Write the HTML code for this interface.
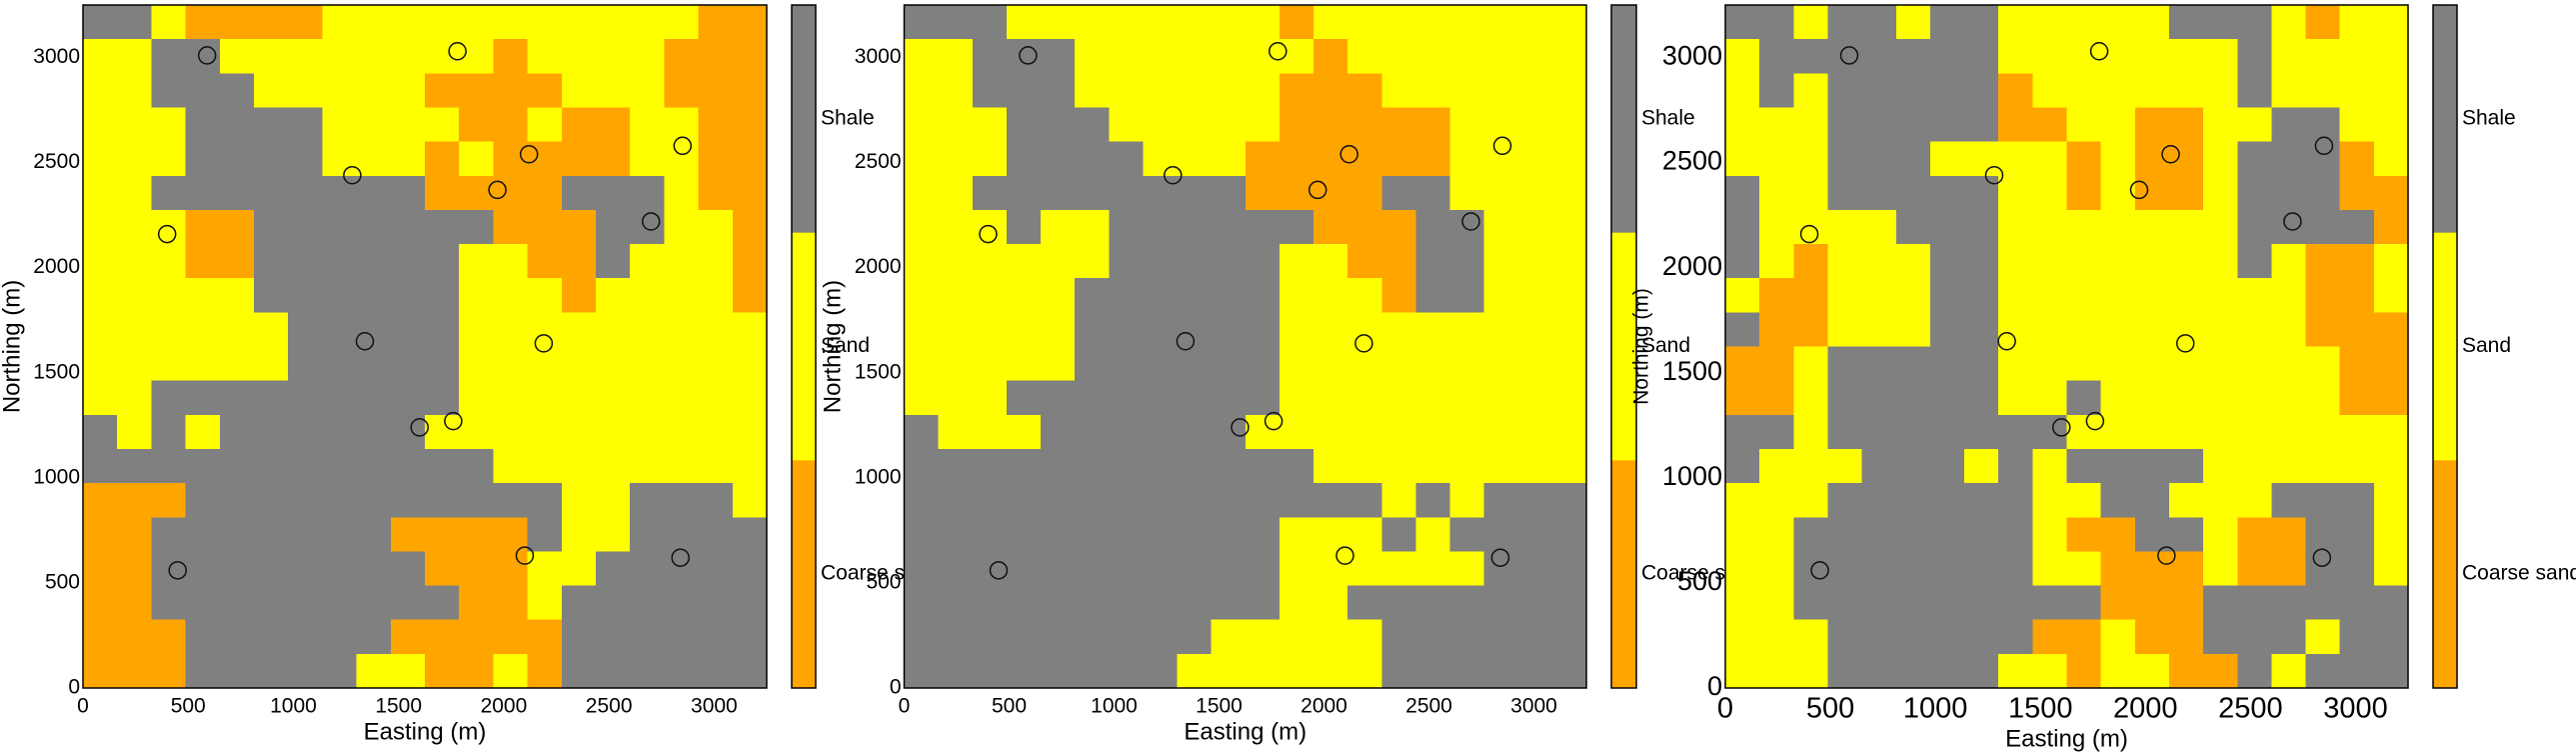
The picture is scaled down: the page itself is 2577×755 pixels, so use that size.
<!DOCTYPE html>
<html><head><meta charset="utf-8"><style>
html,body{margin:0;padding:0;background:#fff;}
svg{display:block;}
text{font-family:"Liberation Sans Narrow","Liberation Sans",sans-serif;fill:#000;}
</style></head><body>
<svg id="fig" width="2577" height="755" viewBox="0 0 2577 755" xmlns="http://www.w3.org/2000/svg"></svg>
<script>
// ---- data ----
const faciesNames = ["Shale", "Sand", "Coarse sand"];
const xTicks = [0, 500, 1000, 1500, 2000, 2500, 3000];
const yTicks = [0, 500, 1000, 1500, 2000, 2500, 3000];
const wellX = [590, 1780, 1280, 2120, 1970, 2850, 400, 2700, 1340, 2190, 1600, 1760, 450, 2100, 2840];
const wellY = [3010, 3030, 2440, 2540, 2370, 2580, 2160, 2220, 1650, 1640, 1240, 1270, 560, 630, 620];
const grid1 = [
"GGYOOOOYYYYYYYYYYYOO",
"YYGGYYYYYYYYOYYYYOOO",
"YYGGGYYYYYOOOOYYYOOO",
"YYYGGGGYYYYOOYOOYYOO",
"YYYGGGGYYYOYOOOOYYOO",
"YYGGGGGGGGOOOOGGGYOO",
"YYYOOGGGGGGGOOOGGYYO",
"YYYOOGGGGGGYYOOGYYYO",
"YYYYYGGGGGGYYYOYYYYO",
"YYYYYYGGGGGYYYYYYYYY",
"YYYYYYGGGGGYYYYYYYYY",
"YYGGGGGGGGGYYYYYYYYY",
"GYGYGGGGGGYYYYYYYYYY",
"GGGGGGGGGGGGYYYYYYYY",
"OOOGGGGGGGGGGGYYGGGY",
"OOGGGGGGGOOOOGYYGGGG",
"OOGGGGGGGGOOOYYGGGGG",
"OOGGGGGGGGGOOYGGGGGG",
"OOOGGGGGGOOOOOGGGGGG",
"OOOGGGGGYYOOYOGGGGGG"];
const grid2 = [
"GGGYYYYYYYYOYYYYYYYY",
"YYGGGYYYYYYYOYYYYYYY",
"YYGGGYYYYYYOOOYYYYYY",
"YYYGGGYYYYYOOOOOYYYY",
"YYYGGGGYYYOOOOOOYYYY",
"YYGGGGGGGGOOOOGGYYYY",
"YYYGYYGGGGGGOOOGGYYY",
"YYYYYYGGGGGYYOOGGYYY",
"YYYYYGGGGGGYYYOGGYYY",
"YYYYYGGGGGGYYYYYYYYY",
"YYYYYGGGGGGYYYYYYYYY",
"YYYGGGGGGGGYYYYYYYYY",
"GYYYGGGGGGYYYYYYYYYY",
"GGGGGGGGGGGGYYYYYYYY",
"GGGGGGGGGGGGGGYGYGGG",
"GGGGGGGGGGGYYYGYGGGG",
"GGGGGGGGGGGYYYYYYGGG",
"GGGGGGGGGGGYYGGGGGGG",
"GGGGGGGGGYYYYYGGGGGG",
"GGGGGGGGYYYYYYGGGGGG"];
const grid3 = [
"GGYGGYGGYYYYYGGGYOYY",
"YGGGGGGGYYYYYYYGYYYY",
"YGYGGGGGOYYYYYYGYYYY",
"YYYGGGGGOOYYOOYYGGYY",
"YYYGGGYYYYOYOOYGGGOY",
"GYYGGGGGYYOYOOYGGGOO",
"GYYYYGGGYYYYYYYGGGGO",
"GYOYYYGGYYYYYYYGYOOY",
"YOOYYYGGYYYYYYYYYOOY",
"GOOYYYGGYYYYYYYYYOOO",
"OOYGGGGGYYYYYYYYYYOO",
"OOYGGGGGYYGYYYYYYYOO",
"GGYGGGGGGGYYYYYYYYYY",
"GYYYGGGYGYGGGGYYYYYY",
"YYYGGGGGGYYGGYYYGGGY",
"YYGGGGGGGYOOGGYOOGGY",
"YYGGGGGGGYYOOOYOOGGY",
"YYGGGGGGGGGOOOGGGGGG",
"YYYGGGGGGOOYOOGGGYGG",
"YYYGGGGGYYOYYOOGYGGG"];

const NS = "http://www.w3.org/2000/svg";
const svg = document.getElementById("fig");
const COL = {G:"#808080", Y:"#ffff00", O:"#ffa500"};
const XMAX = 3250, YMAX = 3250;

function mk(tag, attrs, parent){
  const e = document.createElementNS(NS, tag);
  for (const k in attrs) e.setAttribute(k, attrs[k]);
  (parent||svg).appendChild(e);
  return e;
}
function txt(str, attrs, parent){ const t = mk("text", attrs, parent); t.textContent = str; return t; }

const panels = [
  {grid:grid1, L:83, R:767, T:5, B:688, cbL:792, cbR:816, tickFont:21, yTickFont:21, yTickFam:null, xTickFont:21, ylabX:13, ylabFont:24, xlabY:733, xTickY:707},
  {grid:grid2, L:904.5, R:1587, T:5, B:688, cbL:1612, cbR:1637, tickFont:21, yTickFont:21, yTickFam:null, xTickFont:21, ylabX:834, ylabFont:24, xlabY:733, xTickY:707},
  {grid:grid3, L:1726, R:2409, T:5, B:688, cbL:2434, cbR:2458, tickFont:27, yTickFont:27, yTickFam:"DejaVu Sans", xTickFont:29, ylabX:1643, ylabFont:21, xlabY:740, xTickY:710}
];

panels.forEach((p, pi) => {
  const g = mk("g", {});
  
  
  const sx = v => p.L + v / XMAX * (p.R - p.L);
  const sy = v => p.B - v / YMAX * (p.B - p.T);
  // y-label (drawn first so colorbar of previous panel region overlaps properly)
  const yl = txt("Northing (m)", {x:p.ylabX, y:(p.T+p.B)/2, "font-size":p.ylabFont, "text-anchor":"middle", "dominant-baseline":"middle", transform:`rotate(-90 ${p.ylabX} ${(p.T+p.B)/2})`}, g);
  
  
  // cells
  const cg = mk("g", {"shape-rendering":"crispEdges"}, g);
  
  
  const nr = p.grid.length;
  p.grid.forEach((row, r) => {
    const nc = row.length;
    const cw = XMAX / nc, ch = YMAX / nr;
    for (let c = 0; c < nc; c++) {
      const x0 = sx(c*cw), x1 = sx((c+1)*cw);
      const yTop = sy(YMAX - r*ch), yBot = sy(YMAX - (r+1)*ch);
      const rc = mk("rect", {x:x0, y:yTop, width:x1-x0+0.6, height:yBot-yTop+0.6, fill:COL[row[c]]}, cg);
      
      
    }
  });
  // frame
  const fr = mk("rect", {x:p.L, y:p.T, width:p.R-p.L, height:p.B-p.T, fill:"none", stroke:"#000", "stroke-width":1.5}, g);
  
  
  // wells
  wellX.forEach((wx, i) => {
    const c = mk("circle", {cx:sx(wx), cy:sy(wellY[i]), r:8.5, fill:"none", stroke:"#111", "stroke-width":1.5}, g);
    
    
  });
  // ticks
  xTicks.forEach(v => {
    const t = txt(String(v), {x:sx(v), y:p.xTickY, "font-size":p.xTickFont, "text-anchor":"middle", "dominant-baseline":"middle"}, g);
    
    
  });
  yTicks.forEach(v => {
    const a = {x:p.L-3, y:sy(v), "font-size":p.yTickFont, "text-anchor":"end", "dominant-baseline":"middle"};
    if (p.yTickFam) a["font-family"] = p.yTickFam;
    const t = txt(String(v), a, g);
    
    
  });
  const xl = txt("Easting (m)", {x:(p.L+p.R)/2, y:p.xlabY, "font-size":24, "text-anchor":"middle", "dominant-baseline":"middle"}, g);
  
  
  // colorbar
  const cb = mk("g", {}, g);
  
  
  const segH = (p.B - p.T) / faciesNames.length;
  const segCols = ["G","Y","O"];
  faciesNames.forEach((nm, i) => {
    const s = mk("rect", {x:p.cbL, y:p.T + i*segH, width:p.cbR-p.cbL, height:segH+0.5, fill:COL[segCols[i]]}, cb);
    
    
    const l = txt(nm, {x:p.cbR+5, y:p.T + (i+0.5)*segH, "font-size":21, "dominant-baseline":"middle"}, cb);
    
    
  });
  const cbf = mk("rect", {x:p.cbL, y:p.T, width:p.cbR-p.cbL, height:p.B-p.T, fill:"none", stroke:"#000", "stroke-width":1.5}, cb);
  
  
});
</script>
</body></html>
